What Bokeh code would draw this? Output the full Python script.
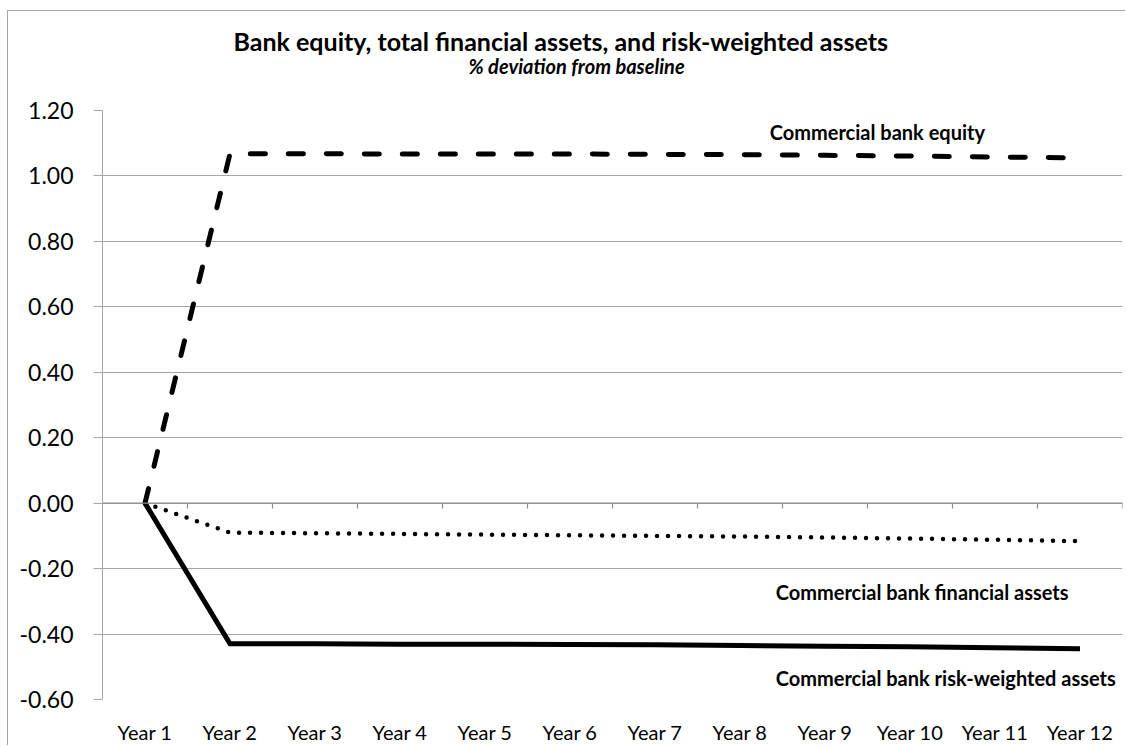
from bokeh.plotting import figure
from bokeh.models import Range1d, FixedTicker, Label, Span, Title, CustomJSTickFormatter
from bokeh.embed import file_html
from bokeh.resources import INLINE

# ---- data ----
years = ["Year 1", "Year 2", "Year 3", "Year 4", "Year 5", "Year 6",
         "Year 7", "Year 8", "Year 9", "Year 10", "Year 11", "Year 12"]
equity = [0.000, 1.068, 1.068, 1.067, 1.067, 1.067, 1.066, 1.065, 1.063, 1.061, 1.058, 1.055]
fin_assets = [0.000, -0.090, -0.092, -0.094, -0.096, -0.098, -0.100, -0.102, -0.105, -0.108, -0.112, -0.116]
rwa = [0.000, -0.430, -0.430, -0.431, -0.431, -0.432, -0.433, -0.435, -0.437, -0.439, -0.442, -0.445]
y_ticks = [-0.60, -0.40, -0.20, 0.00, 0.20, 0.40, 0.60, 0.80, 1.00, 1.20]

title_text = "Bank equity, total financial assets, and risk-weighted assets"
subtitle_text = "% deviation from baseline"
series_labels = ["Commercial bank equity", "Commercial bank financial assets",
                 "Commercial bank risk-weighted assets"]

FONT = "Lato"
GRID = "#a6a6a6"

xs = list(range(1, len(years) + 1))

p = figure(width=1118, height=735, output_backend="svg", toolbar_location=None, title=None,
           x_range=Range1d(0.5, len(years) + 0.5), y_range=Range1d(-0.6, 1.2),
           min_border_left=94, min_border_right=4, min_border_bottom=47, min_border_top=99)
p.margin = (11, 0, 0, 8)
p.styles = {"box-shadow": "-1px -1px 0 0 #a6a6a6"}
p.outline_line_color = None
p.background_fill_color = "white"
p.border_fill_color = "white"

# titles
p.add_layout(Title(text=subtitle_text, align="left", offset=366, text_font=FONT,
                   text_font_size="20px", text_font_style="bold italic",
                   text_color="black", standoff=66), "above")
p.add_layout(Title(text=title_text, align="left", offset=131, text_font=FONT,
                   text_font_size="25px", text_font_style="bold",
                   text_color="black", standoff=-74), "above")

# y axis
p.yaxis.ticker = FixedTicker(ticks=y_ticks)
p.yaxis.formatter = CustomJSTickFormatter(code="return tick.toFixed(2);")
p.yaxis.major_label_text_font = FONT
p.yaxis.major_label_text_font_size = "23px"
p.yaxis.major_label_text_color = "black"
p.yaxis.axis_line_color = GRID
p.yaxis.major_tick_line_color = GRID
p.yaxis.major_tick_out = 9
p.yaxis.major_tick_in = 0
p.yaxis.minor_tick_line_color = None
p.yaxis.major_label_standoff = 20

# x axis: labels only at the bottom
p.xaxis.ticker = FixedTicker(ticks=xs)
p.xaxis.major_label_overrides = {x: y for x, y in zip(xs, years)}
p.xaxis.major_label_text_font = FONT
p.xaxis.major_label_text_font_size = "20px"
p.xaxis.major_label_text_color = "black"
p.xaxis.axis_line_color = None
p.xaxis.major_tick_line_color = None
p.xaxis.minor_tick_line_color = None
p.xaxis.major_label_standoff = 14

p.xgrid.visible = False
p.ygrid.ticker = FixedTicker(ticks=y_ticks)
p.ygrid.grid_line_color = GRID
p.ygrid.grid_line_width = 1

# horizontal axis line at zero with category-boundary tick marks
p.add_layout(Span(location=0, dimension="width", line_color="#8c8c8c", line_width=1.2))
bx = [x + 0.5 for x in xs]
p.segment(x0=bx, y0=[0] * len(bx), x1=bx, y1=[-0.016] * len(bx), line_color="#8c8c8c", line_width=1.2)

# series
p.line(xs, rwa, line_color="black", line_width=5, line_join="miter")
p.line(xs, fin_assets, line_color="black", line_width=4.5, line_dash="0 11", line_cap="round")
p.line(xs, equity, line_color="black", line_width=5, line_dash="15 23", line_cap="round")

# series labels
lab_kw = dict(text_font=FONT, text_font_size="20px", text_font_style="bold",
              text_color="black", text_baseline="middle", text_align="left")
p.add_layout(Label(x=8.35, y=1.133, text=series_labels[0], **lab_kw))
p.add_layout(Label(x=8.42, y=-0.273, text=series_labels[1], **lab_kw))
p.add_layout(Label(x=8.42, y=-0.533, text=series_labels[2], **lab_kw))

open("out.html", "w").write(file_html(p, INLINE))
